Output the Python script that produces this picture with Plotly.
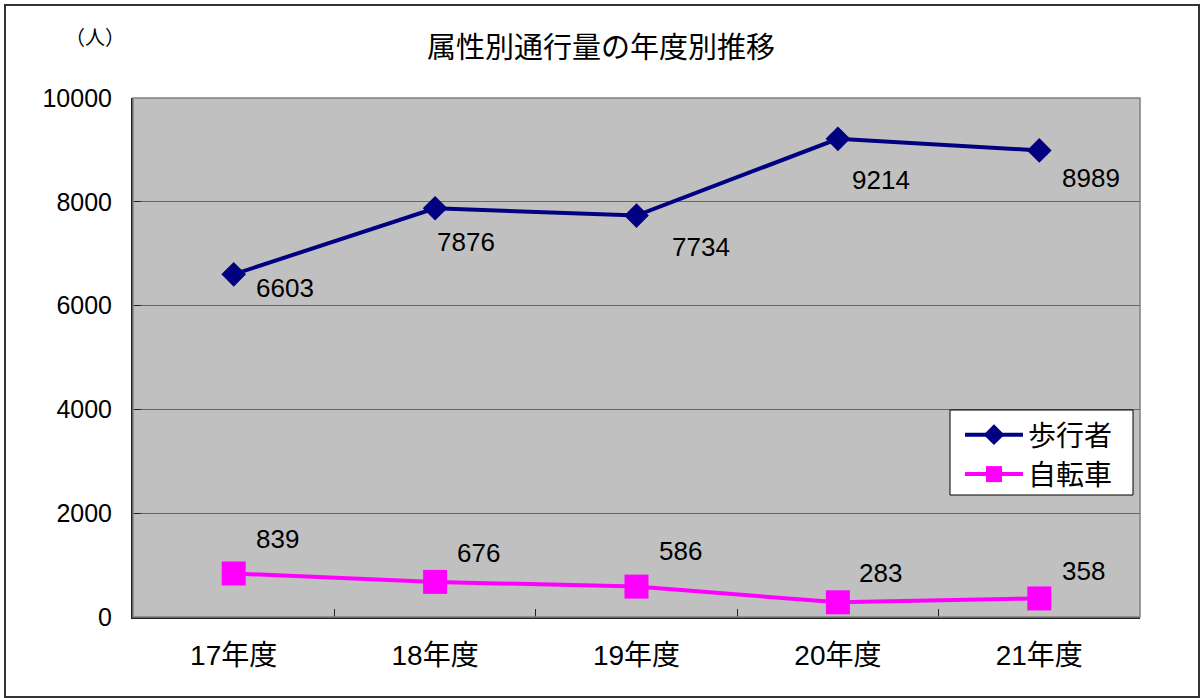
import plotly.graph_objects as go

categories = ["17年度", "18年度", "19年度", "20年度", "21年度"]
walkers = [6603, 7876, 7734, 9214, 8989]
bicycles = [839, 676, 586, 283, 358]
series_names = ["歩行者", "自転車"]
title_text = "属性別通行量の年度別推移"
unit_text = "（人）"
y_ticks = [0, 2000, 4000, 6000, 8000, 10000]

# label offsets (pixels) relative to the point
walk_off = [(51, -14), (31, -34), (64, -31), (43, -41), (52, -28)]
bike_off = [(44, 34), (43, 29), (44, 36), (43, 29), (44, 27)]

FONT = "Liberation Sans, Arial, Noto Sans CJK JP, sans-serif"

fig = go.Figure()
fig.add_trace(go.Scatter(
    x=categories, y=walkers, name=series_names[0], mode="lines+markers",
    line=dict(color="#000080", width=4),
    marker=dict(symbol="diamond", size=19, color="#000080"),
))
fig.add_trace(go.Scatter(
    x=categories, y=bicycles, name=series_names[1], mode="lines+markers",
    line=dict(color="#FF00FF", width=4),
    marker=dict(symbol="square", size=24, color="#FF00FF"),
))

for vals, offs in ((walkers, walk_off), (bicycles, bike_off)):
    for c, v, (dx, dy) in zip(categories, vals, offs):
        fig.add_annotation(x=c, y=v, text=str(v), showarrow=False,
                           xshift=dx, yshift=dy, xanchor="center", yanchor="middle",
                           font=dict(size=26, color="black", family=FONT))

fig.add_annotation(xref="paper", yref="paper", x=(95 - 133) / 1007, y=(617 - 38) / 519,
                   xanchor="center", yanchor="middle",
                   text=unit_text, showarrow=False,
                   font=dict(size=20, color="black", family=FONT))

# plot border (gray), legend box and outer frame
fig.add_shape(type="rect", xref="paper", yref="paper", x0=0, y0=0, x1=1, y1=1,
              line=dict(color="#808080", width=1.5), layer="above")
fig.add_shape(type="rect", xref="paper", yref="paper",
              x0=(950 - 133) / 1007, x1=(1133 - 133) / 1007,
              y0=(617 - 495) / 519, y1=(617 - 410) / 519,
              fillcolor="white", line=dict(color="black", width=1), layer="above")
fig.add_shape(type="rect", xref="paper", yref="paper",
              x0=(5 - 133) / 1007, x1=(1199 - 133) / 1007,
              y0=(617 - 697) / 519, y1=(617 - 5) / 519,
              line=dict(color="#333333", width=2))

fig.update_layout(
    width=1202, height=698,
    margin=dict(l=133, r=62, t=98, b=81),
    paper_bgcolor="white", plot_bgcolor="#C0C0C0",
    font=dict(family=FONT, color="black", size=25),
    title=dict(text=title_text, x=0.5, xref="container", y=1 - 48 / 698,
               yref="container", yanchor="middle", xanchor="center",
               font=dict(size=29, family=FONT, color="black")),
    legend=dict(x=(960 - 133) / 1007, y=(617 - 410) / 519, xanchor="left", yanchor="top",
                bgcolor="rgba(0,0,0,0)", borderwidth=0,
                font=dict(size=28, family=FONT, color="black"),
                tracegroupgap=0, itemwidth=58),
    showlegend=True,
)
fig.update_xaxes(type="category", range=[-0.5, 4.5], showgrid=False,
                 showline=True, linecolor="#222222", linewidth=2,
                 ticks="inside", tickson="boundaries", ticklen=8, tickcolor="#222222",
                 tickfont=dict(size=28), ticklabelstandoff=12)
fig.update_yaxes(range=[0, 10000], tickvals=y_ticks, tickformat="d", showgrid=True,
                 gridcolor="#666666", gridwidth=1, zeroline=False,
                 showline=True, linecolor="#222222", linewidth=2,
                 ticks="inside", ticklen=8, tickcolor="#222222",
                 tickfont=dict(size=25), ticklabelstandoff=14)

fig.write_html("out.html", config={"displayModeBar": False},
               post_script="document.body.style.margin='0';")
